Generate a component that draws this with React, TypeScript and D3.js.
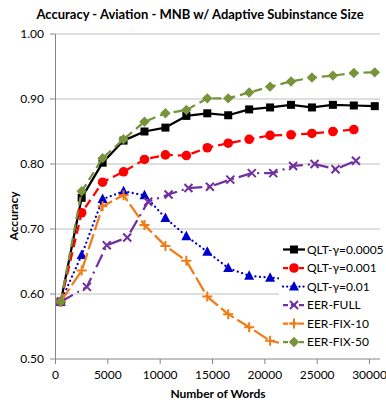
import React from "react";
import * as d3 from "d3";

const xTicks = [0, 5000, 10000, 15000, 20000, 25000, 30000];
const yTicks = [0.5, 0.6, 0.7, 0.8, 0.9, 1.0];

const qltX = [500, 2500, 4500, 6500, 8500, 10500, 12500, 14500, 16500, 18500, 20500, 22500, 24500, 26500, 28500, 30500];
const qlt0005 = [0.588, 0.748, 0.802, 0.836, 0.850, 0.856, 0.874, 0.878, 0.875, 0.884, 0.887, 0.891, 0.887, 0.891, 0.890, 0.889];
const qlt001 = [0.588, 0.725, 0.772, 0.788, 0.807, 0.814, 0.813, 0.825, 0.832, 0.838, 0.844, 0.845, 0.847, 0.850, 0.853];
const qlt01 = [0.588, 0.660, 0.746, 0.758, 0.752, 0.717, 0.689, 0.665, 0.640, 0.628, 0.625, 0.623];
const eerFullX = [500, 3000, 4900, 6850, 8850, 10800, 12700, 14750, 16700, 18750, 20800, 22700, 24750, 26750, 28700];
const eerFull = [0.588, 0.611, 0.675, 0.687, 0.742, 0.753, 0.763, 0.765, 0.776, 0.786, 0.786, 0.797, 0.800, 0.792, 0.805];
const eerFix10 = [0.588, 0.636, 0.735, 0.752, 0.706, 0.674, 0.651, 0.596, 0.569, 0.549, 0.528, 0.521];
const eerFix50 = [0.588, 0.758, 0.809, 0.838, 0.865, 0.878, 0.883, 0.901, 0.901, 0.910, 0.919, 0.927, 0.933, 0.936, 0.940, 0.941];

type Series = {
  name: string;
  xs: number[];
  ys: number[];
  color: string;
  dash: string;
  cap: "butt" | "round";
  marker: "square" | "circle" | "triangle" | "x" | "plus" | "diamond";
};

const series: Series[] = [
  { name: "QLT-γ=0.0005", xs: qltX, ys: qlt0005, color: "#000000", dash: "none", cap: "butt", marker: "square" },
  { name: "QLT-γ=0.001", xs: qltX, ys: qlt001, color: "#FF0000", dash: "9,5", cap: "butt", marker: "circle" },
  { name: "QLT-γ=0.01", xs: qltX, ys: qlt01, color: "#0000CC", dash: "0.1,4.5", cap: "round", marker: "triangle" },
  { name: "EER-FULL", xs: eerFullX, ys: eerFull, color: "#7030A0", dash: "14,5,2,5", cap: "butt", marker: "x" },
  { name: "EER-FIX-10", xs: qltX, ys: eerFix10, color: "#F07C14", dash: "16,4", cap: "butt", marker: "plus" },
  { name: "EER-FIX-50", xs: qltX, ys: eerFix50, color: "#77933C", dash: "9,5", cap: "butt", marker: "diamond" },
];

const FONT = "Lato, 'Open Sans', sans-serif";

function Marker({ type, x, y, color }: { type: Series["marker"]; x: number; y: number; color: string }) {
  switch (type) {
    case "square":
      return <rect x={x - 4} y={y - 4} width={8} height={8} fill={color} />;
    case "circle":
      return <circle cx={x} cy={y} r={4.8} fill={color} />;
    case "triangle":
      return <path d={`M${x},${y - 5.5}L${x + 5},${y + 4}L${x - 5},${y + 4}Z`} fill={color} />;
    case "x":
      return (
        <path d={`M${x - 4},${y - 4}L${x + 4},${y + 4}M${x - 4},${y + 4}L${x + 4},${y - 4}`} stroke={color} strokeWidth={2} fill="none" />
      );
    case "plus":
      return <path d={`M${x - 5},${y}L${x + 5},${y}M${x},${y - 5}L${x},${y + 5}`} stroke={color} strokeWidth={2} fill="none" />;
    case "diamond":
      return <path d={`M${x},${y - 5.2}L${x + 5.2},${y}L${x},${y + 5.2}L${x - 5.2},${y}Z`} fill={color} />;
  }
}

export default function App() {
  const W = 386;
  const H = 405;
  const x = d3.scaleLinear().domain([0, 31000]).range([55.5, 380]);
  const y = d3.scaleLinear().domain([0.5, 1.0]).range([359, 34]);
  const line = d3
    .line<[number, number]>()
    .x((d) => x(d[0]))
    .y((d) => y(d[1]));

  const legendX = 283;
  const legendY0 = 249.5;
  const legendDy = 18.5;

  return (
    <svg width={W} height={H} style={{ position: "absolute", left: 0, top: 0, background: "#fff" }}>
      <rect x={0} y={0} width={W} height={H} fill="#fff" />
      {yTicks.slice(1).map((t) => (
        <line key={t} x1={55.5} x2={380} y1={y(t)} y2={y(t)} stroke="#BFBFBF" strokeWidth={1} />
      ))}
      <line x1={55.5} x2={55.5} y1={34} y2={359} stroke="#868686" strokeWidth={1} />
      <line x1={55.5} x2={380} y1={359} y2={359} stroke="#868686" strokeWidth={1} />
      {yTicks.map((t) => (
        <g key={t}>
          <line x1={50} x2={55.5} y1={y(t)} y2={y(t)} stroke="#868686" />
          <text x={44} y={y(t)} dy="0.35em" textAnchor="end" fontSize={12} fontFamily={FONT} fill="#000">
            {d3.format(".2f")(t)}
          </text>
        </g>
      ))}
      {xTicks.map((t) => (
        <g key={t}>
          <line x1={x(t)} x2={x(t)} y1={359} y2={364} stroke="#868686" />
          <text x={x(t)} y={375} dy="0.35em" textAnchor="middle" fontSize={12} fontFamily={FONT} fill="#000">
            {t}
          </text>
        </g>
      ))}
      {series.map((s) => {
        const pts: [number, number][] = s.ys.map((v, i) => [s.xs[i], v]);
        return (
          <g key={s.name}>
            <path
              d={line(pts) || ""}
              fill="none"
              stroke={s.color}
              strokeWidth={2.25}
              strokeDasharray={s.dash}
              strokeLinecap={s.cap}
              strokeLinejoin="round"
            />
            {pts.map((p, i) => (
              <Marker key={i} type={s.marker} x={x(p[0])} y={y(p[1])} color={s.color} />
            ))}
          </g>
        );
      })}
      <rect x={279} y={238} width={101} height={116} fill="#fff" />
      {series.map((s, i) => {
        const ly = legendY0 + i * legendDy;
        return (
          <g key={s.name}>
            <line
              x1={legendX}
              x2={legendX + 22}
              y1={ly}
              y2={ly}
              stroke={s.color}
              strokeWidth={2.25}
              strokeDasharray={s.dash === "none" ? "none" : s.marker === "triangle" ? "0.1,4" : "5,3"}
              strokeLinecap={s.cap}
            />
            <Marker type={s.marker} x={legendX + 11} y={ly} color={s.color} />
            <text x={legendX + 24} y={ly} dy="0.35em" fontSize={12} fontFamily={FONT} fill="#000">
              {s.name}
            </text>
          </g>
        );
      })}
      <text x={200} y={14} dy="0.35em" textAnchor="middle" fontSize={13} fontWeight="bold" fontFamily={FONT} fill="#000">
        Accuracy - Aviation - MNB w/ Adaptive Subinstance Size
      </text>
      <text x={218} y={394} dy="0.35em" textAnchor="middle" fontSize={12} fontWeight="bold" fontFamily={FONT} fill="#000">
        Number of Words
      </text>
      <text
        transform={`translate(14,216) rotate(-90)`}
        dy="0.35em"
        textAnchor="middle"
        fontSize={12}
        fontWeight="bold"
        fontFamily={FONT}
        fill="#000"
      >
        Accuracy
      </text>
    </svg>
  );
}
